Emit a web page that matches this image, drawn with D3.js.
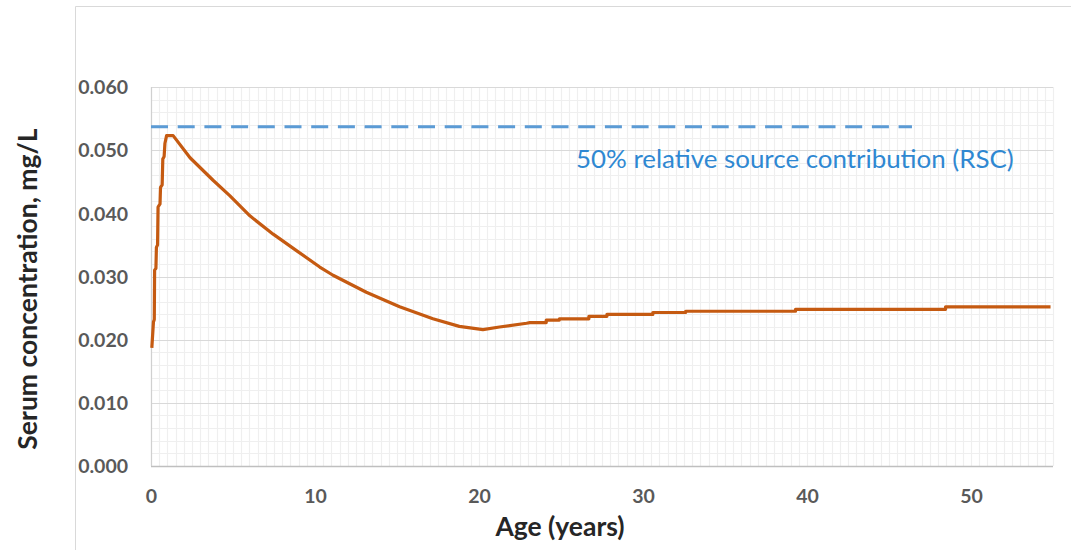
<!DOCTYPE html>
<html>
<head>
<meta charset="utf-8">
<script src="https://cdn.jsdelivr.net/npm/d3@7"></script>
<style>
  html, body { margin: 0; padding: 0; background: #fff; }
  svg { display: block; }
  .tick-label { font-family: Lato, sans-serif; font-weight: bold; font-size: 19.5px; fill: #595959; }
  .axis-title { font-family: Lato, sans-serif; font-weight: bold; font-size: 26.5px; fill: #262626; }
  .note { font-family: Lato, sans-serif; font-size: 25.9px; fill: #2f88d2; }
</style>
</head>
<body>
<svg id="chart" width="1071" height="550"></svg>
<script>
// age in years, serum concentration in mg/L
const ages = [
  0.05, 0.15, 0.2, 0.22, 0.3, 0.33, 0.4, 0.43, 0.55, 0.58, 0.68, 0.72, 0.8, 0.85, 0.95, 1.35,
  2.38, 3.8, 4.8, 6.03, 7.45, 8.87, 10.29, 11.1, 13.13, 15.16, 17.19, 18.8, 20.24, 21.25, 22.9,
  23.1, 24.1, 24.1, 24.9, 24.9, 26.7, 26.7, 27.8, 27.8, 30.6, 30.6, 32.6, 32.6, 39.3, 39.3,
  48.45, 48.45, 54.85,
];
const serum = [
  0.0187, 0.0228, 0.0232, 0.031, 0.0313, 0.0346, 0.035, 0.041, 0.0415, 0.0441, 0.0445, 0.0486, 0.049, 0.0511, 0.0523, 0.0523,
  0.0488, 0.0452, 0.0428, 0.0396, 0.0367, 0.0341, 0.0315, 0.0302, 0.0275, 0.0252, 0.0233, 0.0221, 0.0216, 0.022, 0.0226,
  0.0227, 0.0227, 0.0231, 0.0231, 0.0233, 0.0233, 0.0237, 0.0237, 0.024, 0.024, 0.0243, 0.0243, 0.0245, 0.0245, 0.0248,
  0.0248, 0.0252, 0.0252,
];

const rscLevel = 0.0537;
const rscSpan = [0, 46.4];
const rscLabel = "50% relative source contribution (RSC)";

const xTicks = [0, 10, 20, 30, 40, 50];
const yTicks = [0, 0.01, 0.02, 0.03, 0.04, 0.05, 0.06];
const xDomain = [0, 55];
const yDomain = [0, 0.06];

const svg = d3.select("#chart");
const plot = { left: 151, right: 1053, top: 87, bottom: 466 };

const x = d3.scaleLinear().domain(xDomain).range([plot.left, plot.right]);
const y = d3.scaleLinear().domain(yDomain).range([plot.bottom, plot.top]);

// outer chart frame (only top and left edges are visible in the crop)
svg.append("line")
  .attr("x1", 75.5).attr("x2", 1071).attr("y1", 6.5).attr("y2", 6.5)
  .attr("stroke", "#d9d9d9");
svg.append("line")
  .attr("x1", 75.5).attr("x2", 75.5).attr("y1", 6.5).attr("y2", 550)
  .attr("stroke", "#d9d9d9");

const grid = svg.append("g");

// minor grid
grid.selectAll("line.minor-x")
  .data(d3.range(xDomain[0], xDomain[1] + 0.001, 0.5))
  .join("line")
  .attr("x1", (d) => Math.round(x(d)) + 0.5)
  .attr("x2", (d) => Math.round(x(d)) + 0.5)
  .attr("y1", plot.top)
  .attr("y2", plot.bottom)
  .attr("stroke", "#efefef")
  .attr("stroke-width", 1.2);

grid.selectAll("line.minor-y")
  .data(d3.range(0, yDomain[1] + 0.0001, 0.002))
  .join("line")
  .attr("x1", plot.left)
  .attr("x2", plot.right)
  .attr("y1", (d) => Math.round(y(d)) + 0.5)
  .attr("y2", (d) => Math.round(y(d)) + 0.5)
  .attr("stroke", "#efefef")
  .attr("stroke-width", 1.2);

// major horizontal grid
grid.selectAll("line.major-y")
  .data(yTicks)
  .join("line")
  .attr("x1", plot.left)
  .attr("x2", plot.right)
  .attr("y1", (d) => Math.round(y(d)) + 0.5)
  .attr("y2", (d) => Math.round(y(d)) + 0.5)
  .attr("stroke", "#d9d9d9")
  .attr("stroke-width", 1.2);

// axis lines
svg.append("line")
  .attr("x1", plot.left).attr("x2", plot.right)
  .attr("y1", plot.bottom + 0.5).attr("y2", plot.bottom + 0.5)
  .attr("stroke", "#bfbfbf").attr("stroke-width", 1.5);
svg.append("line")
  .attr("x1", plot.left + 0.5).attr("x2", plot.left + 0.5)
  .attr("y1", plot.top).attr("y2", plot.bottom)
  .attr("stroke", "#d0d0d0").attr("stroke-width", 1.2);

// tick labels
const xAxis = svg.append("g")
  .attr("transform", `translate(0,${plot.bottom + 34})`)
  .call(d3.axisBottom(x).tickValues(xTicks).tickSize(0).tickFormat(d3.format("d")));
xAxis.select(".domain").remove();
xAxis.selectAll("text").attr("class", "tick-label").attr("dy", 0).attr("fill", null);

const yAxis = svg.append("g")
  .attr("transform", `translate(${plot.left - 20},0)`)
  .call(d3.axisLeft(y).tickValues(yTicks).tickSize(0).tickFormat(d3.format(".3f")));
yAxis.select(".domain").remove();
yAxis.selectAll("text").attr("class", "tick-label").attr("dy", "0.35em").attr("fill", null);

// RSC reference line
svg.append("line")
  .attr("x1", x(rscSpan[0]))
  .attr("x2", x(rscSpan[1]))
  .attr("y1", y(rscLevel))
  .attr("y2", y(rscLevel))
  .attr("stroke", "#5b9bd5")
  .attr("stroke-width", 3)
  .attr("stroke-dasharray", "17,9.7");

svg.append("text")
  .attr("class", "note")
  .attr("x", 576)
  .attr("y", 168)
  .text(rscLabel);

// serum curve
const points = ages.map((age, index) => [age, serum[index]]);
svg.append("path")
  .datum(points)
  .attr("fill", "none")
  .attr("stroke", "#c55a11")
  .attr("stroke-width", 3.2)
  .attr("stroke-linejoin", "round")
  .attr("d", d3.line().x((d) => x(d[0])).y((d) => y(d[1])));

// axis titles
svg.append("text")
  .attr("class", "axis-title")
  .attr("text-anchor", "middle")
  .attr("transform", "translate(37,289) rotate(-90)")
  .text("Serum concentration, mg/L");

svg.append("text")
  .attr("class", "axis-title")
  .attr("text-anchor", "middle")
  .attr("x", 560)
  .attr("y", 536)
  .text("Age (years)");
</script>
</body>
</html>
